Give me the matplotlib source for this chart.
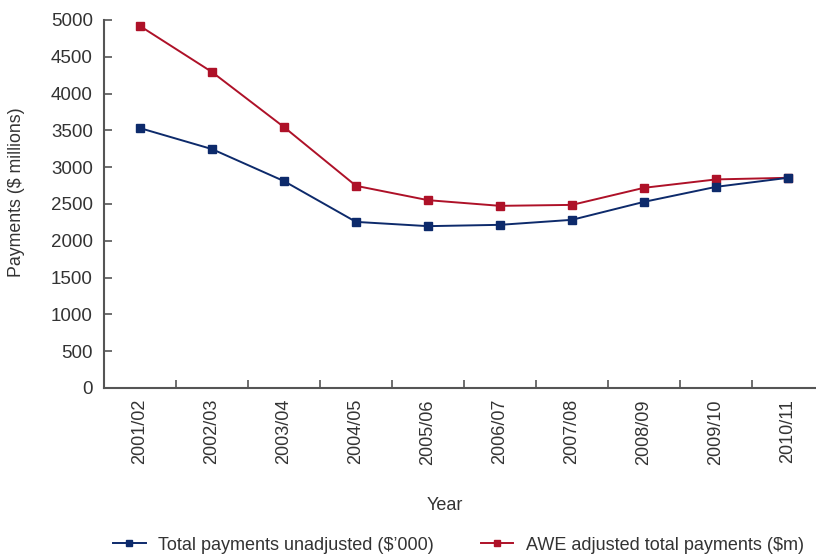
import matplotlib
matplotlib.use("Agg")
import matplotlib.pyplot as plt

years = ["2001/02", "2002/03", "2003/04", "2004/05", "2005/06",
         "2006/07", "2007/08", "2008/09", "2009/10", "2010/11"]
unadjusted = [3531, 3246, 2811, 2257, 2199, 2217, 2285, 2529, 2733, 2856]
awe_adjusted = [4918, 4293, 3545, 2747, 2552, 2475, 2488, 2720, 2834, 2856]
y_ticks = [0, 500, 1000, 1500, 2000, 2500, 3000, 3500, 4000, 4500, 5000]

RED = "#AE1128"
BLUE = "#0D2A6B"
TEXT = "#333333"
SPINE = "#555555"

plt.rcParams["font.family"] = ["Liberation Sans", "DejaVu Sans"]

fig = plt.figure(figsize=(8.16, 5.55), dpi=100)
ax = fig.add_axes([104 / 816, 1 - 388 / 555, 720 / 816, 368 / 555])

x = list(range(len(years)))
ax.plot(x, awe_adjusted, color=RED, lw=1.4, marker="s", ms=6,
        mec=RED, mfc=RED, label="AWE adjusted total payments ($m)", zorder=3)
ax.plot(x, unadjusted, color=BLUE, lw=1.4, marker="s", ms=6,
        mec=BLUE, mfc=BLUE, label="Total payments unadjusted ($\u2019000)", zorder=4)

ax.set_xlim(-0.5, len(years) - 0.5)
ax.set_ylim(0, 5000)
ax.set_yticks(y_ticks)
ax.set_yticklabels([str(v) for v in y_ticks], fontsize=13.5, color=TEXT)

# category labels centred between the boundary ticks
ax.set_xticks(x)
ax.set_xticklabels(years, rotation=90, fontsize=13, color=TEXT)
ax.tick_params(axis="x", which="major", length=0, pad=8)
ax.set_xticks([i + 0.5 for i in x[:-1]] + [len(years) - 0.5], minor=True)
ax.tick_params(axis="x", which="minor", direction="in", length=6,
               width=1.2, color=SPINE)
ax.tick_params(axis="y", direction="in", length=6, width=1.2,
               color=SPINE, pad=8)

for side in ("top", "right"):
    ax.spines[side].set_visible(False)
for side in ("left", "bottom"):
    ax.spines[side].set_color(SPINE)
    ax.spines[side].set_linewidth(1.5)

ax.set_ylabel("Payments ($ millions)", fontsize=12.8, color=TEXT)
ax.yaxis.set_label_coords(-0.1097, 0.533)
fig.text(445 / 816, 1 - 505 / 555, "Year", fontsize=13, color=TEXT,
         ha="center", va="center")

handles, labels = ax.get_legend_handles_labels()
fig.legend(handles[::-1], labels[::-1], loc="center",
           bbox_to_anchor=(0.562, 1 - 545 / 555), ncol=2, frameon=False,
           fontsize=13, markerscale=0.7, handlelength=1.8, handletextpad=0.7,
           columnspacing=2.6, labelcolor=TEXT)

fig.savefig("out.png", dpi=100)
